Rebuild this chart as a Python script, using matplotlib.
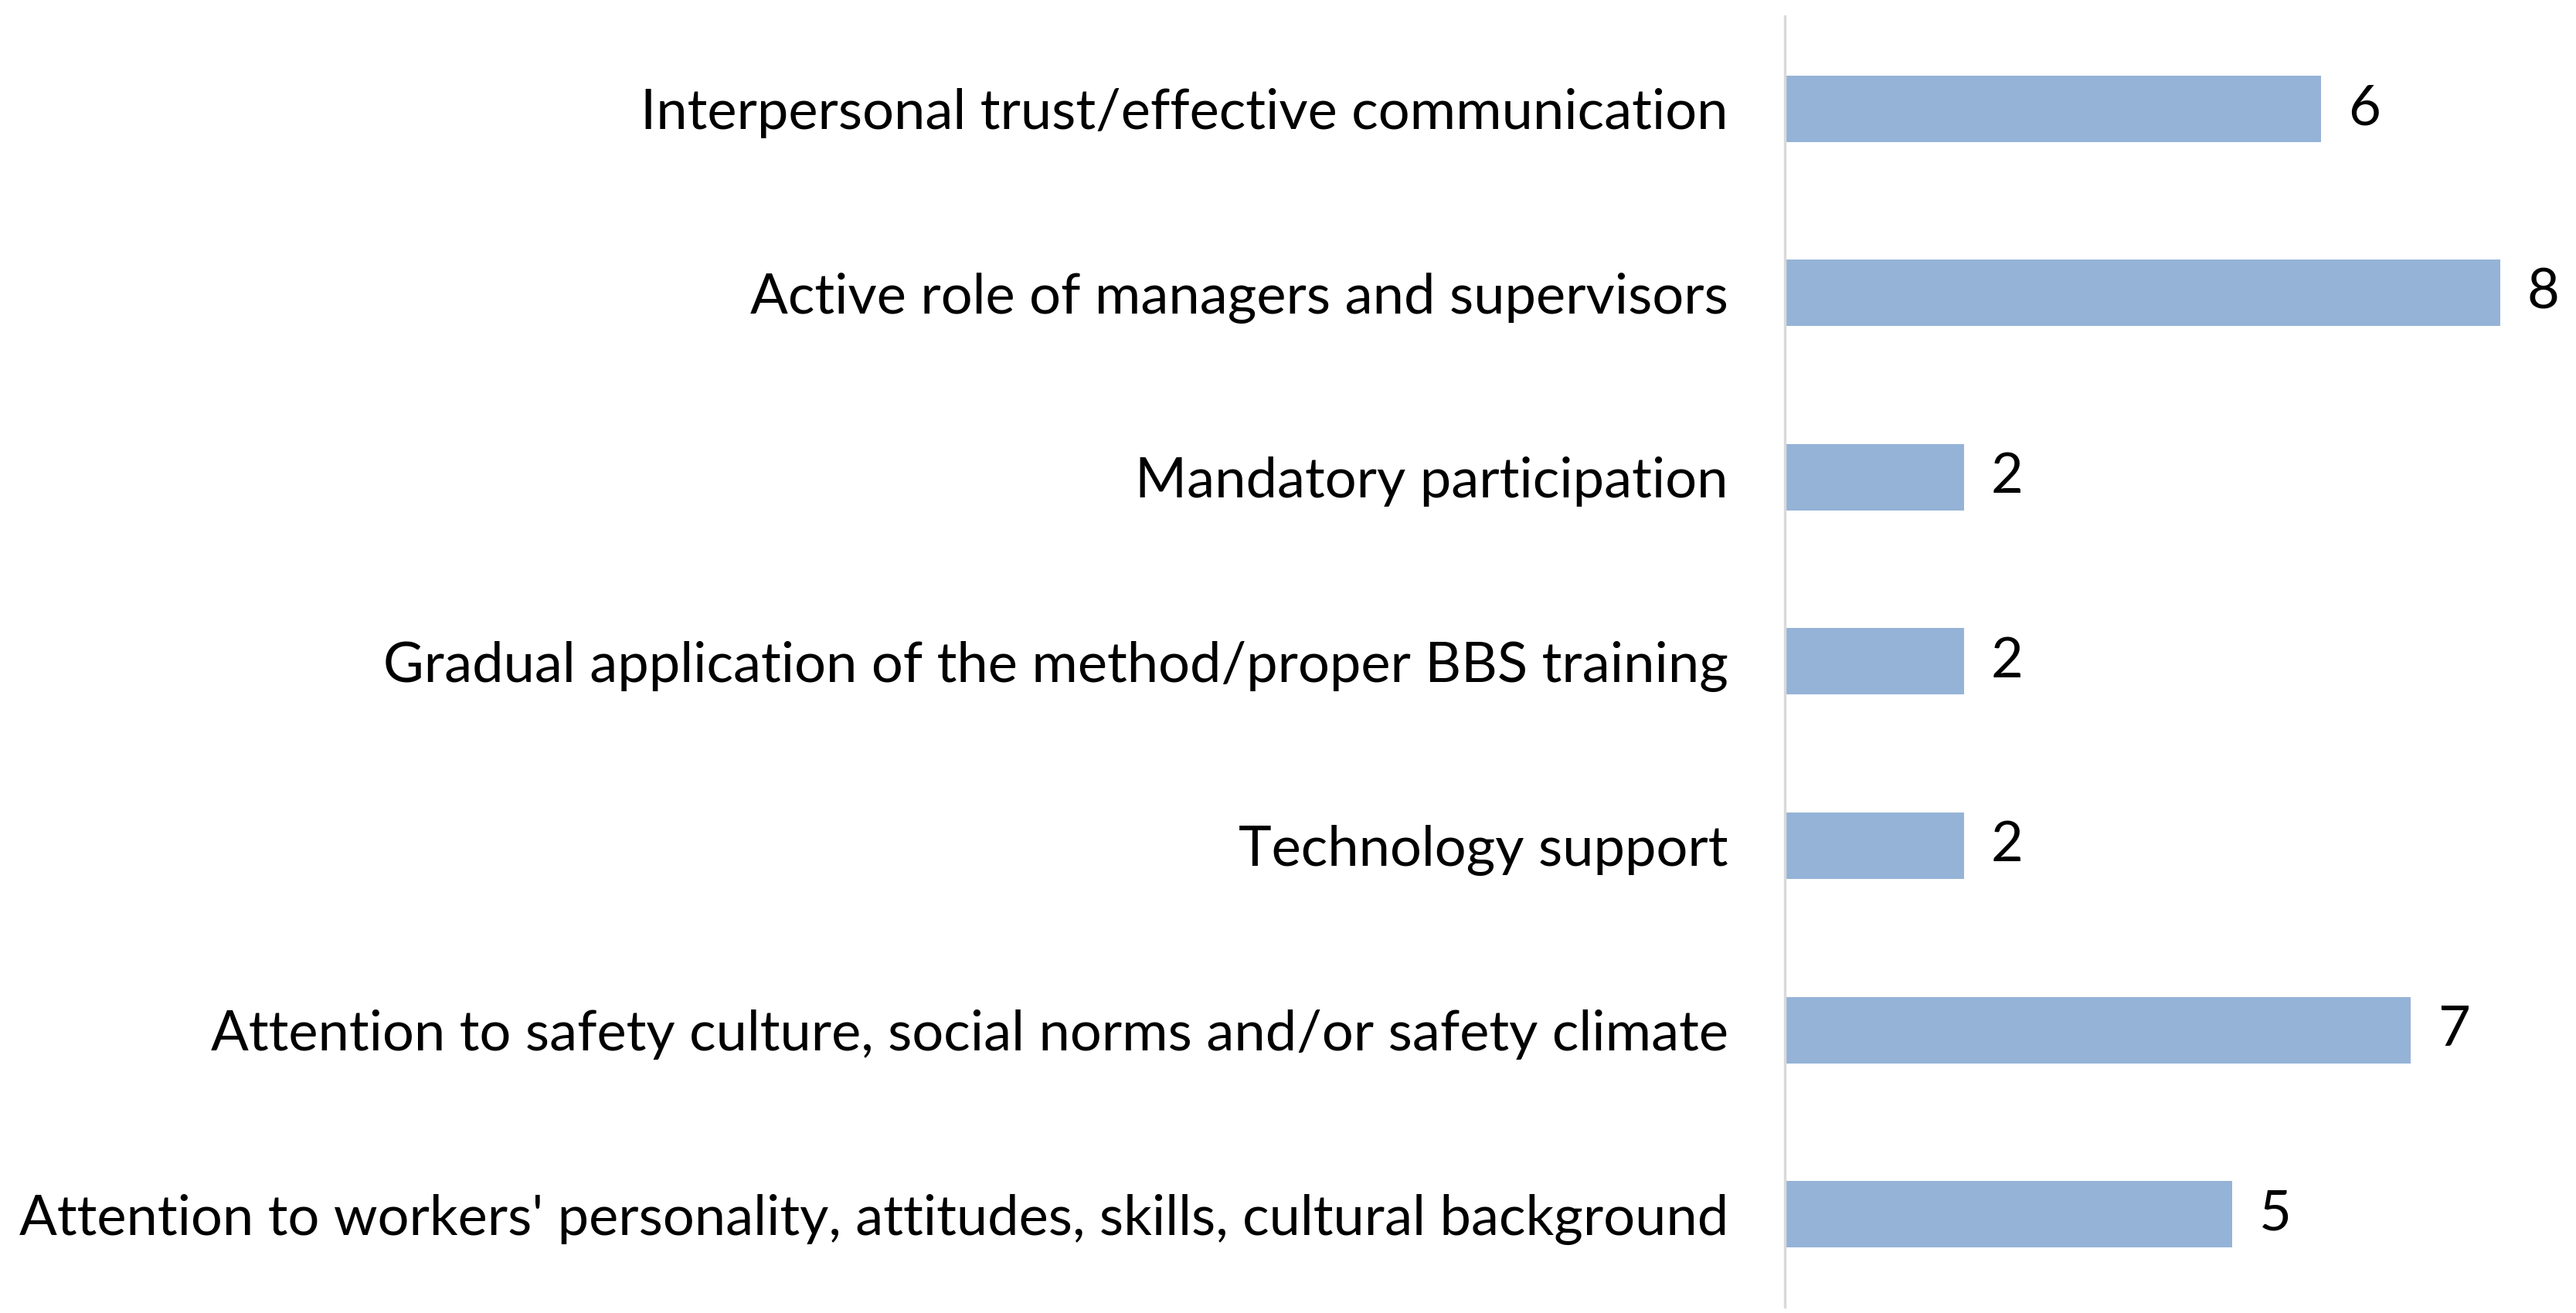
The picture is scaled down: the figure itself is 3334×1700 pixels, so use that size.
import matplotlib.pyplot as plt
import numpy as np

plt.rcParams['font.family'] = ['Lato', 'DejaVu Sans']

categories = [
    "Interpersonal trust/effective communication",
    "Active role of managers and supervisors",
    "Mandatory participation",
    "Gradual application of the method/proper BBS training",
    "Technology support",
    "Attention to safety culture, social norms and/or safety climate",
    "Attention to workers' personality, attitudes, skills, cultural background",
]
counts = [6, 8, 2, 2, 2, 7, 5]

fig = plt.figure(figsize=(33.34, 17), dpi=100)
ax = fig.add_axes([0.693, 0.005, 0.307, 0.9825])

y = np.arange(len(categories))
bars = ax.barh(y, counts, height=0.36, color='#95B3D7')
ax.set_ylim(len(categories) - 0.5, -0.5)
ax.set_xlim(0, 8.85)

ax.set_yticks(y)
ax.set_yticklabels(categories, fontsize=52, color='black')
ax.tick_params(axis='y', length=0, pad=53)
ax.set_xticks([])

for s in ['top', 'right', 'bottom']:
    ax.spines[s].set_visible(False)
ax.spines['left'].set_color('#D9D9D9')
ax.spines['left'].set_linewidth(2.5)

for b, v in zip(bars, counts):
    ax.text(b.get_width() + 0.3, b.get_y() + b.get_height() / 2, str(v),
            va='center', ha='left', fontsize=52, color='black')

fig.savefig('out.png', dpi=100, facecolor='white')
